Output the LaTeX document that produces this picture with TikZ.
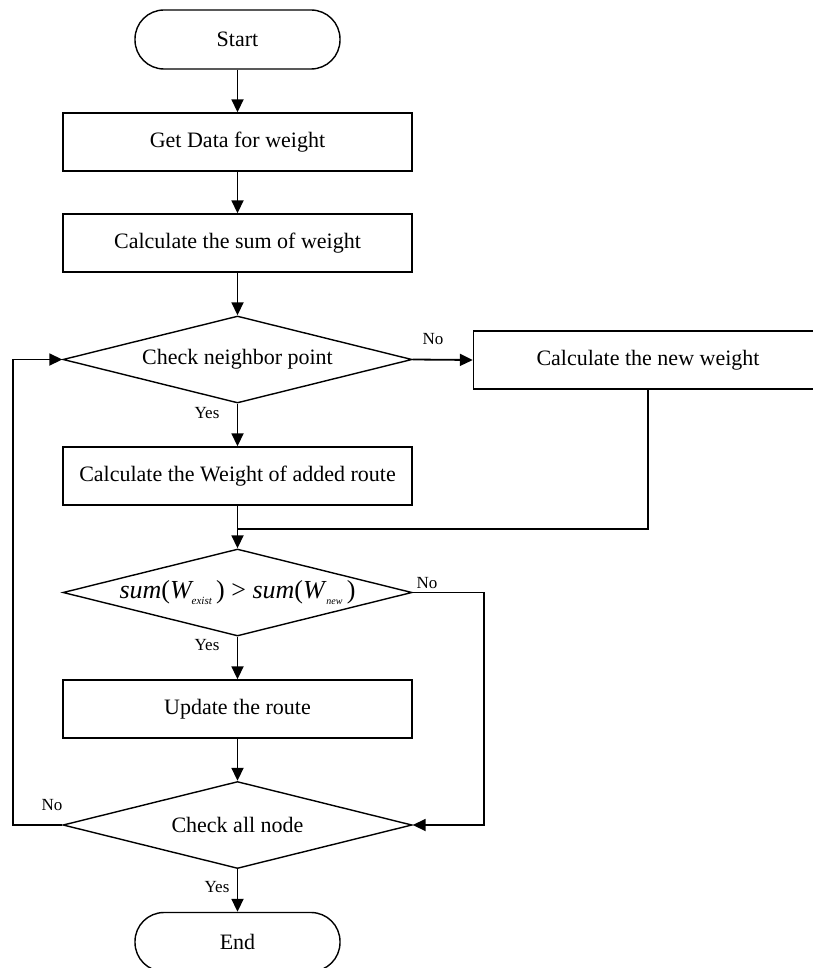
\documentclass[tikz,border=0pt]{standalone}
\usepackage{fontspec}
\setmainfont{Liberation Serif}
\usetikzlibrary{shapes.geometric,arrows.meta}
\begin{document}
\begin{tikzpicture}[x=1pt,y=-1pt,
  every node/.style={font=\fontsize{22}{26}\selectfont},
  line/.style={line width=1.8pt},
  arr/.style={line width=1.8pt,-{Triangle[length=13pt,width=12pt]}},
  term/.style={draw,line width=1.4pt,rounded corners=29pt,minimum width=205pt,minimum height=59pt,inner sep=0pt},
  procbox/.style={draw,line width=1.4pt,minimum width=349pt,minimum height=58pt,inner sep=0pt},
  decis/.style={draw,line width=1.4pt,diamond,aspect=4,minimum width=349pt,minimum height=87pt,inner sep=0pt},
  lbl/.style={font=\fontsize{17}{20}\selectfont,inner sep=0pt}
]
\useasboundingbox (0,0) rectangle (812,968);
\node[term] (start) at (237.5,39.5) {Start};
\node[procbox] (getdata) at (237.5,142) {Get Data for weight};
\node[procbox] (sumw) at (237.5,243) {Calculate the sum of weight};
\node[decis] (chk1) at (237.5,359.5) {Check neighbor point};
\node[procbox] (neww) at (648,360) {Calculate the new weight};
\node[procbox] (addr) at (237.5,476) {Calculate the Weight of added route};
\node[decis] (chk2) at (237.5,592.5) {\fontsize{26}{30}\selectfont{\itshape sum}({\itshape W}\raisebox{-6pt}{\fontsize{11}{11}\selectfont\itshape exist}\,) \textgreater{} {\itshape sum}({\itshape W}\raisebox{-6pt}{\fontsize{10}{10}\selectfont\itshape\,new}\,)};
\node[procbox] (upd) at (237.5,709) {Update the route};
\node[decis] (chk3) at (237.5,825) {Check all node};
\node[term] (end) at (237.5,942) {End};

\coordinate (merge) at (237.5,529);
\coordinate (nwcorner) at (neww.south |- merge);
\coordinate (r1) at (484,592.5);
\coordinate (r2) at (484,825);
\coordinate (l1) at (13,825);
\coordinate (l2) at (13,359.5);

\draw[arr] (start) -- (getdata);
\draw[arr] (getdata) -- (sumw);
\draw[arr] (sumw) -- (chk1);
\draw[arr] (chk1.east) -- (neww.west);
\draw[arr] (chk1.south) -- (addr.north);
\draw[arr] (addr.south) -- (chk2.north);
\draw[line] (neww.south) -- (nwcorner) -- (merge);
\draw[arr] (chk2.south) -- (upd.north);
\draw[arr] (chk2.east) -- (r1) -- (r2) -- (chk3.east);
\draw[arr] (upd.south) -- (chk3.north);
\draw[arr] (chk3.west) -- (l1) -- (l2) -- (chk1.west);
\draw[arr] (chk3.south) -- (end.north);

\node[lbl] (no1) at (433,339) {No};
\node[lbl] (yes1) at (207,413) {Yes};
\node[lbl] (no2) at (427,583) {No};
\node[lbl] (yes2) at (207,645) {Yes};
\node[lbl] (no3) at (52,805) {No};
\node[lbl] (yes3) at (217,887) {Yes};
\end{tikzpicture}
\end{document}
